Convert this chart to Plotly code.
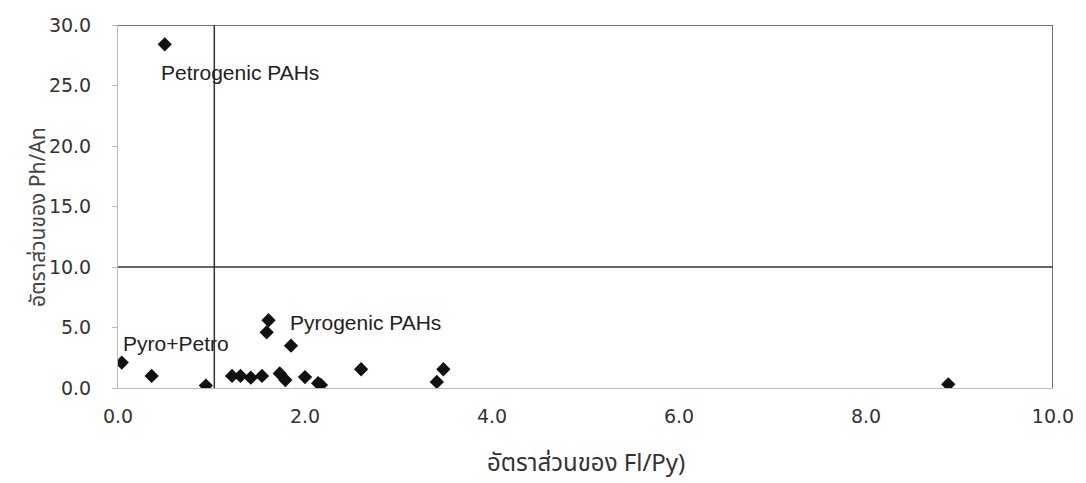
import plotly.graph_objects as go

# Data
fl_py = [0.50, 0.04, 0.36, 0.94, 1.22, 1.31, 1.42, 1.54, 1.73, 1.79, 2.00, 2.14, 2.17,
         2.60, 3.41, 3.48, 1.61, 1.59, 1.85, 8.88]
ph_an = [28.4, 2.1, 1.0, 0.2, 1.0, 1.0, 0.85, 1.0, 1.2, 0.66, 0.9, 0.4, 0.25,
         1.55, 0.5, 1.55, 5.6, 4.6, 3.5, 0.3]

x_ticks = [0, 2, 4, 6, 8, 10]
x_tick_text = ["0.0", "2.0", "4.0", "6.0", "8.0", "10.0"]
y_ticks = [0, 5, 10, 15, 20, 25, 30]
y_tick_text = ["0.0", "5.0", "10.0", "15.0", "20.0", "25.0", "30.0"]

labels = ["Petrogenic PAHs", "Pyrogenic PAHs", "Pyro+Petro"]
label_x = [0.44, 1.82, 0.03]
label_y = [26.1, 5.4, 3.7]

fl_py_threshold = 1.03
ph_an_threshold = 10.0

x_title = "อัตราส่วนของ Fl/Py)"
y_title = "อัตราส่วนของ Ph/An"

fig = go.Figure()
fig.add_trace(go.Scatter(
    x=fl_py, y=ph_an, mode="markers",
    marker=dict(symbol="diamond", size=11, color="#111111"),
    showlegend=False, hoverinfo="x+y",
))

# Quadrant dividing lines and frame
fig.add_shape(type="line", xref="x", yref="y", x0=fl_py_threshold, x1=fl_py_threshold,
              y0=0, y1=30, line=dict(color="#333333", width=1.5))
fig.add_shape(type="line", xref="x", yref="y", x0=0, x1=10,
              y0=ph_an_threshold, y1=ph_an_threshold, line=dict(color="#333333", width=1.5))
fig.add_shape(type="line", xref="x", yref="y", x0=0, x1=10, y0=30, y1=30,
              line=dict(color="#444444", width=1.5))
fig.add_shape(type="line", xref="x", yref="y", x0=10, x1=10, y0=0, y1=30,
              line=dict(color="#444444", width=1.5))

for t, lx, ly in zip(labels, label_x, label_y):
    fig.add_annotation(x=lx, y=ly, xref="x", yref="y", text=t, showarrow=False,
                       xanchor="left", yanchor="middle",
                       font=dict(family="Liberation Sans, Arial", size=21, color="#222222"))

fig.add_annotation(x=0.5, y=-0.21, xref="paper", yref="paper", text=x_title,
                   showarrow=False, xanchor="center", yanchor="middle",
                   font=dict(family="Noto Sans Thai, Noto Sans, DejaVu Sans", size=24, color="#333333"))
fig.add_annotation(x=-0.085, y=0.47, xref="paper", yref="paper", text=y_title,
                   showarrow=False, xanchor="center", yanchor="middle", textangle=-90,
                   font=dict(family="Noto Sans Thai, Noto Sans, DejaVu Sans", size=21, color="#444444"))

fig.update_layout(
    width=1086, height=483,
    margin=dict(l=118, r=24, t=25, b=95),
    paper_bgcolor="white", plot_bgcolor="white",
    font=dict(family="DejaVu Sans", size=19, color="#333333"),
)
fig.update_xaxes(range=[0, 10], tickvals=x_ticks, ticktext=x_tick_text,
                 showgrid=False, zeroline=False, showline=True, linecolor="#bbbbbb",
                 linewidth=1, ticks="", ticklabelstandoff=11,
                 tickfont=dict(family="DejaVu Sans", size=19, color="#333333"))
fig.update_yaxes(range=[0, 30], tickvals=y_ticks, ticktext=y_tick_text,
                 showgrid=False, zeroline=False, showline=True, linecolor="#bbbbbb",
                 linewidth=1, ticks="outside", ticklen=5, tickcolor="#bbbbbb",
                 ticklabelstandoff=17,
                 tickfont=dict(family="DejaVu Sans", size=19, color="#333333"))

fig.write_html("out.html")
